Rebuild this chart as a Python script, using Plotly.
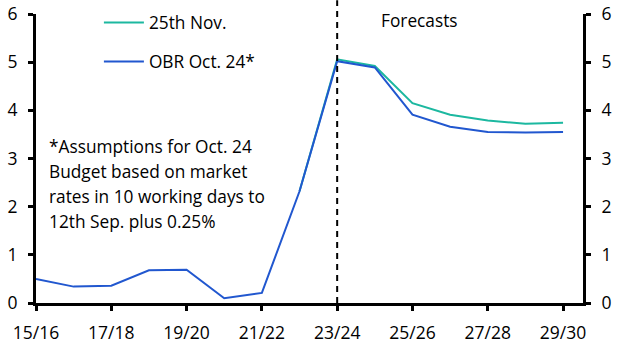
import plotly.graph_objects as go

categories = ["15/16", "16/17", "17/18", "18/19", "19/20", "20/21", "21/22", "22/23",
              "23/24", "24/25", "25/26", "26/27", "27/28", "28/29", "29/30"]
obr_oct24 = [0.50, 0.34, 0.36, 0.68, 0.69, 0.10, 0.21, 2.32, 5.02, 4.89, 3.91, 3.66, 3.55, 3.54, 3.55]
nov25_cats = categories[7:]
nov25 = [2.32, 5.06, 4.92, 4.15, 3.91, 3.79, 3.72, 3.74]
tick_labels = ["15/16", "17/18", "19/20", "21/22", "23/24", "25/26", "27/28", "29/30"]
note_lines = ["*Assumptions for Oct. 24", "Budget based on market",
              "rates in 10 working days to", "12th Sep. plus 0.25%"]

idx = {c: i for i, c in enumerate(categories)}
TEAL = "#1cb8a0"
BLUE = "#2157cf"
FONT = "Open Sans"
TXT = 17.3

fig = go.Figure()
fig.add_trace(go.Scatter(x=[idx[c] for c in nov25_cats], y=nov25, mode="lines",
                         name="25th Nov.", line=dict(color=TEAL, width=2),
                         legendgroup="a"))
fig.add_trace(go.Scatter(x=[idx[c] for c in categories], y=obr_oct24, mode="lines",
                         name="OBR Oct. 24*", line=dict(color=BLUE, width=2),
                         legendgroup="b"))
fig.add_trace(go.Scatter(x=[0], y=[0], yaxis="y2", mode="lines", showlegend=False,
                         hoverinfo="skip", line=dict(width=0), opacity=0))

fig.add_shape(type="line", xref="x", yref="paper", x0=idx["23/24"], x1=idx["23/24"],
              y0=0, y1=1.048, line=dict(color="black", width=2, dash="6px,5px"))

fig.add_annotation(x=idx["23/24"] + 1.1, y=5.86, xref="x", yref="y",
                   text="Forecasts", showarrow=False, xanchor="left", yanchor="middle",
                   font=dict(family=FONT, size=TXT, color="black"))
for i, line in enumerate(note_lines):
    fig.add_annotation(x=0.29, y=3.25 - 0.519 * i, xref="x", yref="y",
                       text=line, showarrow=False, xanchor="left", yanchor="middle",
                       font=dict(family=FONT, size=TXT, color="black"))

axis_common = dict(range=[0, 6], tickvals=[0, 1, 2, 3, 4, 5, 6], showgrid=False,
                   zeroline=False, showline=True, linecolor="black", linewidth=3,
                   ticks="outside", ticklen=5, tickwidth=3, tickcolor="black",
                   automargin=False, ticklabelstandoff=7, ticklabeloverflow="allow",
                   tickfont=dict(family=FONT, size=17.5, color="black"))

fig.update_layout(
    width=629, height=355,
    margin=dict(l=36, r=46, t=14, b=52, autoexpand=False),
    plot_bgcolor="white", paper_bgcolor="white",
    showlegend=True,
    legend=dict(x=0.115, y=1.032, xanchor="left", yanchor="top", itemwidth=40,
                bgcolor="rgba(0,0,0,0)", tracegroupgap=13.5,
                font=dict(family=FONT, size=TXT, color="black")),
    xaxis=dict(range=[0, 14.53], tickvals=[idx[c] for c in tick_labels], ticktext=tick_labels,
               showgrid=False, zeroline=False, showline=True, linecolor="black", linewidth=3,
               ticks="outside", ticklen=5, tickwidth=3, tickcolor="black",
               automargin=False, ticklabelstandoff=7, ticklabeloverflow="allow",
               tickfont=dict(family=FONT, size=17.5, color="black")),
    yaxis=dict(side="left", **axis_common),
    yaxis2=dict(side="right", overlaying="y", anchor="x", **axis_common),
)

# remove the default page margin so the figure sits at the window's corner
fig.write_html("out.html", config={"displayModeBar": False},
               post_script="document.body.style.margin='0';")
